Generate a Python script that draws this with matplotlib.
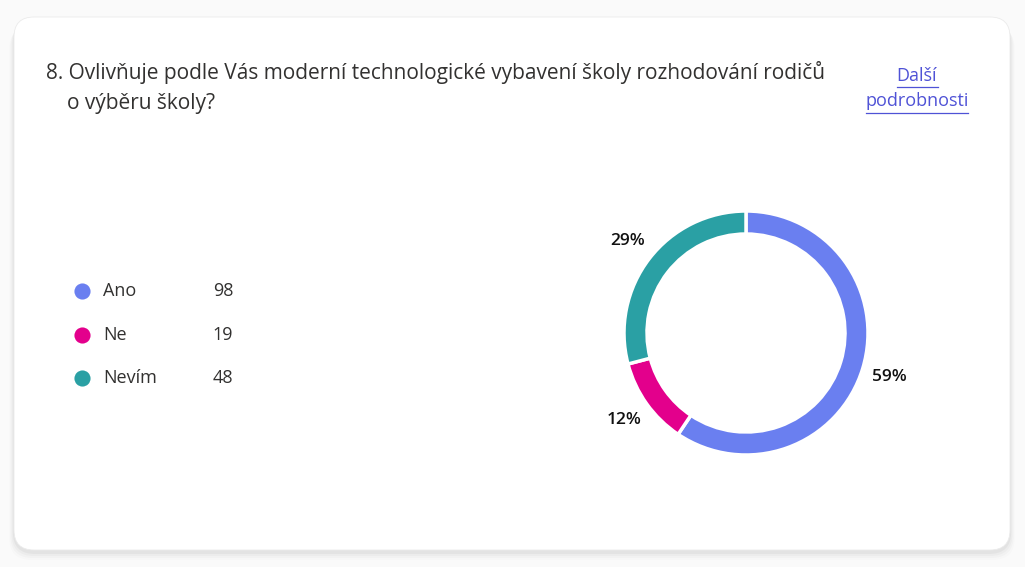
import matplotlib.pyplot as plt
from matplotlib.patches import FancyBboxPatch

# data
kategorie = ["Ano", "Ne", "Nevím"]
pocty = [98, 19, 48]
barvy = ["#6a7ff0", "#e3008c", "#2aa0a4"]
otazka = "8. Ovlivňuje podle Vás moderní technologické vybavení školy rozhodování rodičů"
otazka2 = "o výběru školy?"

W, H = 1025, 567
plt.rcParams['font.family'] = ['Open Sans', 'DejaVu Sans']

fig = plt.figure(figsize=(W / 100, H / 100), dpi=100, facecolor="#fafafa")
ax = fig.add_axes([0, 0, 1, 1])


def y(py):
    # pixel y (from top) -> data y
    return H - py


# karta se stinem (hlavne dole)
for i, a in enumerate([0.012, 0.018, 0.025, 0.035]):
    g = 8 - i * 2
    ax.add_patch(FancyBboxPatch((14 - g * 0.6, y(550) - g - 2), 996 + 1.2 * g, 533,
                                boxstyle="round,pad=0,rounding_size=22",
                                fc="black", ec="none", alpha=a, zorder=1))
ax.add_patch(FancyBboxPatch((14, y(550)), 996, 533,
                            boxstyle="round,pad=0,rounding_size=20",
                            fc="white", ec="#ebebeb", lw=0.6, zorder=2))

# nadpis
ax.text(46, y(73), otazka, fontsize=15, color="#323130", va="center", ha="left", zorder=3)
ax.text(67, y(104), otazka2, fontsize=15, color="#323130", va="center", ha="left", zorder=3)

# odkaz
link = "#4f52d6"
ax.text(917, y(76), "Další", fontsize=13, color=link, ha="center", va="center", zorder=3)
ax.text(917, y(101), "podrobnosti", fontsize=13, color=link, ha="center", va="center", zorder=3)
ax.plot([897, 938], [y(87), y(87)], color=link, lw=0.9, zorder=3)
ax.plot([866, 968], [y(113), y(113)], color=link, lw=0.9, zorder=3)

# legenda
for i, (k, n, c) in enumerate(zip(kategorie, pocty, barvy)):
    yy = y(291 + i * 43.5)
    ax.scatter([82], [yy], s=135, color=c, zorder=3, linewidths=0)
    ax.text(103, yy, k, fontsize=13, color="#323130", va="center", ha="left", zorder=3)
    ax.text(233, yy, str(n), fontsize=13, color="#323130", va="center", ha="right", zorder=3)

# donut
wedges, texts, autotexts = ax.pie(
    pocty, colors=barvy, startangle=90, counterclock=False,
    center=(746, y(333)), radius=122, frame=True,
    wedgeprops=dict(width=23, edgecolor="white", linewidth=2.5),
    autopct=lambda p: f"{p:.0f}%", pctdistance=1.23,
    textprops=dict(fontsize=12.5, fontweight="semibold", color="#111111"))
for w in wedges:
    w.set_zorder(3)
for t in autotexts:
    t.set_zorder(3)

ax.set_xlim(0, W)
ax.set_ylim(0, H)
ax.set_aspect("auto")
ax.axis("off")

fig.savefig("out.png", dpi=100, facecolor=fig.get_facecolor())
